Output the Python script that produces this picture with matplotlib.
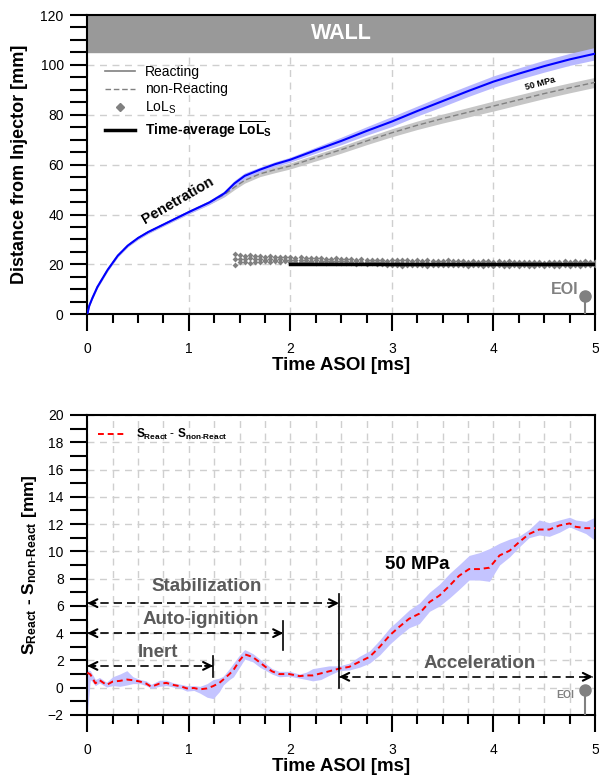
import matplotlib
matplotlib.use("Agg")
import matplotlib.pyplot as plt
from matplotlib.lines import Line2D
from matplotlib.ticker import MultipleLocator

plt.rcParams['font.family'] = ['Liberation Sans', 'DejaVu Sans']
plt.rcParams['mathtext.fontset'] = 'custom'
plt.rcParams['mathtext.rm'] = 'Liberation Sans'
plt.rcParams['mathtext.it'] = 'Liberation Sans:italic'
plt.rcParams['mathtext.bf'] = 'Liberation Sans:bold'

# ---- top panel: penetration ----
pen_time = [0, 0.02, 0.05, 0.1, 0.2, 0.3, 0.4, 0.5, 0.6, 0.7, 0.8, 1.0, 1.2, 1.35, 1.45,
            1.55, 1.7, 1.85, 2.0, 2.25, 2.5, 2.75, 3.0, 3.25, 3.5, 3.75, 4.0, 4.25,
            4.5, 4.75, 5.0]
react = [0, 3.5, 6.5, 11, 17.8, 23.5, 27.6, 30.6, 33.0, 35.0, 37.0, 41.0, 44.8, 48.5, 52.5,
         55.5, 58.0, 60.2, 62, 65.8, 69.5, 73.5, 77.3, 81.5, 85.5, 89.5, 93.3, 96.5,
         99.5, 102.2, 104.5]
react_band = [0, 0.3, 0.4, 0.5, 0.5, 0.5, 0.5, 0.6, 0.6, 0.6, 0.6, 0.7, 0.8, 1.0, 1.2,
              1.2, 1.0, 1.0, 1.0, 1.2, 1.5, 1.7, 2.0, 2.0, 2.2, 2.2, 2.3, 2.3,
              2.4, 2.4, 2.5]
nonreact = [0, 3.5, 6.5, 11, 17.8, 23.5, 27.6, 30.6, 33.0, 35.0, 37.0, 41.0, 44.8, 48.0, 51.0,
            53.7, 56.3, 58, 59.5, 62.8, 66, 69.5, 72.8, 75.8, 78.5, 81, 83.5, 86,
            88.5, 90.8, 93]
nonreact_band = [0, 0.3, 0.4, 0.5, 0.5, 0.5, 0.5, 0.6, 0.6, 0.6, 0.6, 0.7, 0.8, 0.9, 1.0,
                 1.1, 1.1, 1.2, 1.2, 1.3, 1.4, 1.5, 1.6, 1.7, 1.8, 1.9, 2.0, 2.0,
                 2.0, 2.0, 2.0]

lol_time = [1.45, 1.50, 1.55, 1.60, 1.65, 1.70, 1.75, 1.80, 1.85, 1.90, 1.95, 2.00,
            2.05, 2.10, 2.15, 2.20, 2.25, 2.30, 2.35, 2.40, 2.45, 2.50, 2.55, 2.60,
            2.65, 2.70, 2.75, 2.80, 2.85, 2.90, 2.95, 3.00, 3.05, 3.10, 3.15, 3.20,
            3.25, 3.30, 3.35, 3.40, 3.45, 3.50, 3.55, 3.60, 3.65, 3.70, 3.75, 3.80,
            3.85, 3.90, 3.95, 4.00, 4.05, 4.10, 4.15, 4.20, 4.25, 4.30, 4.35, 4.40,
            4.45, 4.50, 4.55, 4.60, 4.65, 4.70, 4.75, 4.80, 4.85, 4.90, 4.95, 5.00]
lol_upper = [24.3, 23.8, 23.4, 23.6, 23.2, 23.3, 23.0, 23.2, 22.9, 23.1, 22.8, 22.9,
             22.6, 22.8, 22.5, 22.7, 22.4, 22.6, 22.3, 22.1, 22.4, 22.2, 22.0, 22.2,
             21.9, 22.1, 21.8, 21.9, 21.6, 21.8, 21.5, 21.7, 21.9, 21.6, 21.8, 21.5,
             21.7, 21.4, 21.6, 21.3, 21.5, 21.3, 21.6, 21.4, 21.2, 21.4, 21.1, 21.3,
             21.0, 21.2, 21.4, 21.1, 21.3, 21.0, 21.2, 20.9, 21.1, 20.8, 21.0, 20.8,
             21.0, 20.7, 20.9, 21.1, 20.8, 21.2, 21.0, 21.3, 21.1, 21.2, 20.9, 21.0]
lol_mid = [22.0, 22.3, 22.1, 22.4, 22.0, 22.2, 21.9, 22.1, 21.8, 22.0, 21.9, 21.7,
           21.8, 21.6, 21.8, 21.5, 21.6, 21.4, 21.5, 21.3, 21.4, 21.2, 21.3, 21.1,
           21.2, 21.0, 21.1, 20.9, 21.0, 20.8, 20.7, 20.6, 20.8, 20.5, 20.7, 20.6,
           20.5, 20.7, 20.4, 20.6, 20.5, 20.4, 20.6, 20.5, 20.3, 20.5, 20.3, 20.5,
           20.2, 20.4, 20.5, 20.3, 20.5, 20.2, 20.3, 20.1, 20.3, 20.1, 20.2, 20.0,
           20.2, 20.0, 20.2, 20.3, 20.0, 20.4, 20.2, 20.5, 20.3, 20.4, 20.2, 20.3]
lol_lower = [19.8, 20.8, 21.0, 20.7, 21.1, 20.9, 21.2, 21.0, 21.3, 21.1, 21.2, 20.9,
             21.0, 20.8, 21.1, 20.9, 20.7, 20.9, 20.6, 20.8, 20.5, 20.7, 20.4, 20.6,
             20.3, 20.5, 20.2, 20.4, 20.1, 20.3, 19.9, 19.6, 19.8, 19.5, 19.7, 19.9,
             19.6, 19.8, 19.5, 19.7, 19.9, 19.6, 19.8, 19.6, 19.9, 19.7, 19.5, 19.8,
             19.6, 19.4, 19.7, 19.5, 19.8, 19.5, 19.3, 19.6, 19.4, 19.7, 19.5, 19.3,
             19.6, 19.4, 19.7, 19.5, 19.3, 19.6, 19.4, 19.7, 19.5, 19.6, 19.8, 19.6]
lol_avg_time = [2.0, 5.0]
lol_avg = [20.2, 20.2]

# ---- bottom panel: difference ----
diff_time = [0.0, 0.03, 0.08, 0.12, 0.19, 0.25, 0.32, 0.39, 0.45, 0.52, 0.58, 0.63,
             0.71, 0.78, 0.85, 0.92, 0.98, 1.05, 1.11, 1.18, 1.24, 1.30, 1.34, 1.40,
             1.44, 1.50, 1.55, 1.63, 1.70, 1.76, 1.82, 1.89, 1.99, 2.09, 2.16, 2.22,
             2.30, 2.38, 2.48, 2.58, 2.68, 2.78, 2.88, 2.98, 3.07, 3.17, 3.27, 3.37,
             3.47, 3.57, 3.66, 3.76, 3.86, 3.96, 4.06, 4.16, 4.25, 4.35, 4.45, 4.55,
             4.65, 4.75, 4.81, 4.91, 5.00]
diff_mean = [1.1, 0.98, 0.32, 0.56, 0.2, 0.45, 0.5, 0.6, 0.55, 0.45, 0.3, 0.07,
             0.3, 0.35, 0.2, 0.1, -0.05, -0.02, -0.12, -0.05, 0.12, 0.35, 0.6, 1.0,
             1.3, 2.0, 2.45, 2.25, 1.85, 1.5, 1.2, 1.0, 1.0, 0.85, 0.9, 0.9,
             1.05, 1.2, 1.4, 1.53, 1.9, 2.26, 3.0, 3.85, 4.45, 5.06, 5.43, 6.28,
             6.77, 7.5, 8.2, 8.7, 8.7, 8.8, 9.7, 10.05, 10.66, 11.27, 11.6, 11.6,
             11.9, 12.05, 11.8, 11.7, 11.7]
diff_low = [-2.0, 0.6, 0.15, 0.35, 0.05, 0.15, 0.1, 0.2, 0.3, 0.3, 0.15, -0.05,
            0.1, 0.15, 0.05, -0.05, -0.25, -0.2, -0.4, -0.7, -0.8, -0.3, 0.2, 0.6,
            0.8, 1.5, 2.1, 1.9, 1.5, 1.25, 1.0, 0.8, 0.85, 0.7, 0.6, 0.5,
            0.6, 0.9, 1.25, 1.3, 1.5, 1.8, 2.4, 3.2, 3.8, 4.4, 4.7, 5.6,
            6.0, 6.6, 7.2, 7.9, 7.9, 7.8, 9.0, 9.6, 10.3, 11.0, 11.2, 11.1,
            11.4, 11.8, 11.6, 11.3, 10.8]
diff_high = [1.3, 1.25, 0.6, 0.75, 0.4, 0.8, 1.0, 1.25, 0.8, 0.6, 0.5, 0.25,
             0.55, 0.55, 0.35, 0.25, 0.15, 0.15, 0.1, 0.3, 0.6, 0.7, 0.85, 1.4,
             1.8, 2.4, 2.8, 2.5, 2.1, 1.75, 1.4, 1.2, 1.2, 1.0, 1.15, 1.4,
             1.5, 1.6, 1.6, 1.8, 2.3, 2.7, 3.5, 4.4, 5.0, 5.7, 6.2, 7.0,
             7.6, 8.4, 9.0, 9.7, 9.9, 10.2, 10.6, 10.9, 11.1, 11.6, 12.3, 12.1,
             12.3, 12.5, 12.3, 12.2, 12.5]

eoi_time = 4.9
gray = '#808080'
text_gray = '#5a5a5a'


def style_axis(ax):
    for sp in ax.spines.values():
        sp.set_linewidth(1.5)
    ax.tick_params(axis='y', which='both', direction='out', length=12, width=1.5,
                   labelsize=10, pad=5)
    ax.tick_params(axis='x', which='major', direction='out', length=12, width=1.5,
                   labelsize=10, pad=8)
    ax.tick_params(axis='x', which='minor', direction='out', length=6.5, width=1.5)
    ax.set_axisbelow(True)


fig = plt.figure(figsize=(5.99, 7.78), dpi=100)
ax1 = fig.add_axes([0.1457, 0.596, 0.8476, 0.3847])
ax2 = fig.add_axes([0.1457, 0.081, 0.8476, 0.3856])

# top panel
style_axis(ax1)
ax1.set_xlim(0, 5)
ax1.set_ylim(0, 120)
ax1.xaxis.set_major_locator(MultipleLocator(1))
ax1.xaxis.set_minor_locator(MultipleLocator(0.25))
ax1.yaxis.set_major_locator(MultipleLocator(20))
ax1.yaxis.set_minor_locator(MultipleLocator(5))
ax1.grid(which='major', color='#cfcfcf', linestyle=(0, (5, 4)), linewidth=1)

ax1.axhspan(105, 120, color='#999999', zorder=1)
ax1.text(2.5, 112.5, 'WALL', color='white', fontsize=15.5, fontweight='bold',
         ha='center', va='center', zorder=2)

ax1.fill_between(pen_time, [v - b for v, b in zip(nonreact, nonreact_band)],
                 [v + b for v, b in zip(nonreact, nonreact_band)],
                 color='#c6c6c6', lw=0, zorder=2)
ax1.fill_between(pen_time, [v - b for v, b in zip(react, react_band)],
                 [v + b for v, b in zip(react, react_band)],
                 color='#b8b8ff', lw=0, zorder=2)
ax1.plot(pen_time, nonreact, color='#808080', ls=(0, (4, 2)), lw=1, zorder=3)
ax1.plot(pen_time, react, color='#0000ff', lw=1.5, zorder=4)

for row in (lol_upper, lol_mid, lol_lower):
    ax1.plot(lol_time, row, ls='none', marker='D', ms=3.0, color=gray, mew=0, zorder=3)
ax1.plot(lol_avg_time, lol_avg, color='black', lw=2.5, zorder=4)

ax1.text(0.89, 45.5, 'Penetration', rotation=30, fontsize=10.5, fontweight='bold',
         ha='center', va='center')
ax1.text(4.46, 92.5, '50 MPa', rotation=15, fontsize=6.5, fontweight='bold',
         ha='center', va='center')

ax1.plot([eoi_time, eoi_time], [0, 7.3], color=gray, lw=1.5, zorder=3)
ax1.plot([eoi_time], [7.3], marker='o', ms=8, color=gray, zorder=4)
ax1.text(4.84, 10, 'EOI', color=gray, fontsize=11.5, fontweight='bold',
         ha='right', va='center')

handles = [Line2D([], [], color=gray, lw=1.2),
           Line2D([], [], color=gray, lw=1, ls=(0, (4, 2))),
           Line2D([], [], color=gray, ls='none', marker='D', ms=4),
           Line2D([], [], color='black', lw=2.5)]
labels = ['Reacting', 'non-Reacting', r'LoL$_\mathrm{S}$',
          r'Time-average $\overline{\mathbf{LoL}}_\mathbf{S}$']
leg = ax1.legend(handles, labels, loc='upper left', bbox_to_anchor=(0.01, 0.875),
                 frameon=False, fontsize=10, handlelength=2.2, labelspacing=0.25,
                 handletextpad=0.7)
leg.get_texts()[3].set_fontweight('bold')

ax1.set_xlabel('Time ASOI [ms]', fontsize=13.5, fontweight='bold', labelpad=1)
ax1.set_ylabel('Distance from Injector [mm]', fontsize=13, fontweight='bold', labelpad=9)

# bottom panel
style_axis(ax2)
ax2.set_xlim(0, 5)
ax2.set_ylim(-2, 20)
ax2.xaxis.set_major_locator(MultipleLocator(1))
ax2.xaxis.set_minor_locator(MultipleLocator(0.25))
ax2.yaxis.set_major_locator(MultipleLocator(2))
ax2.yaxis.set_minor_locator(MultipleLocator(1))
ax2.grid(which='both', axis='x', color='#cfcfcf', linestyle=(0, (5, 4)), linewidth=1)
ax2.grid(which='major', axis='y', color='#cfcfcf', linestyle=(0, (5, 4)), linewidth=1)

ax2.fill_between(diff_time, diff_low, diff_high, color='#c4c4ff', lw=0, zorder=2)
ax2.plot(diff_time, diff_mean, color='#ff0000', ls=(0, (3, 2)), lw=1.4, zorder=3,
         label=r'$\mathbf{S_{React}}$ - $\mathbf{S_{non\text{-}React}}$')
ax2.legend(loc='upper left', bbox_to_anchor=(0.0, 0.995), frameon=False,
           fontsize=8.5, handlelength=2.4)


def span_arrow(ax, x0, x1, y):
    ax.plot([x0, x1], [y, y], color='black', lw=1.2, ls=(0, (5, 3)), zorder=4)
    for a, b in ((x0 + 0.08, x0), (x1 - 0.08, x1)):
        ax.annotate('', xy=(b, y), xytext=(a, y),
                    arrowprops=dict(arrowstyle='->', color='black', lw=1.5,
                                    mutation_scale=14, shrinkA=0, shrinkB=0),
                    zorder=5)


span_arrow(ax2, 0, 2.48, 6.2)
span_arrow(ax2, 0, 1.93, 4.0)
span_arrow(ax2, 0, 1.24, 1.6)
span_arrow(ax2, 2.48, 4.98, 0.8)
ax2.plot([2.48, 2.48], [0, 6.9], color='black', lw=1.2, zorder=4)
ax2.plot([1.93, 1.93], [2.75, 4.9], color='black', lw=1.2, zorder=4)
ax2.plot([1.24, 1.24], [0.8, 2.3], color='black', lw=1.2, zorder=4)

ax2.text(1.18, 7.45, 'Stabilization', color=text_gray, fontsize=13.5, fontweight='bold',
         ha='center', va='center')
ax2.text(1.12, 5.0, 'Auto-ignition', color=text_gray, fontsize=13.5, fontweight='bold',
         ha='center', va='center')
ax2.text(0.70, 2.6, 'Inert', color=text_gray, fontsize=13.5, fontweight='bold',
         ha='center', va='center')
ax2.text(3.86, 1.8, 'Acceleration', color=text_gray, fontsize=13.5, fontweight='bold',
         ha='center', va='center')
ax2.text(2.93, 9.0, '50 MPa', color='black', fontsize=13.5, fontweight='bold',
         ha='left', va='center')

ax2.plot([eoi_time, eoi_time], [-2, -0.17], color=gray, lw=1.5, zorder=3)
ax2.plot([eoi_time], [-0.17], marker='o', ms=8, color=gray, zorder=4)
ax2.text(4.71, -0.55, 'EOI', color=gray, fontsize=7.5, fontweight='bold',
         ha='center', va='center')

ax2.set_xlabel('Time ASOI [ms]', fontsize=13.5, fontweight='bold', labelpad=1)
ax2.set_ylabel(r'$\mathbf{S_{React}}$ - $\mathbf{S_{non\text{-}React}}$ [mm]',
               fontsize=12.5, fontweight='bold', labelpad=6)

fig.savefig('out.png', dpi=100)
